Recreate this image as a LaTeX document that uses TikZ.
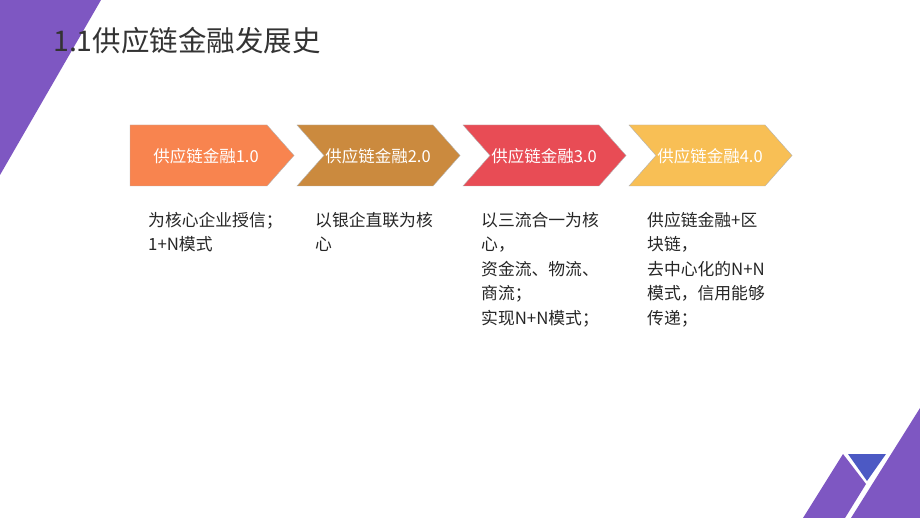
\documentclass[tikz,border=0pt]{standalone}
\usepackage{fontspec}
\setmainfont{Noto Sans CJK SC}
\begin{document}
\begin{tikzpicture}[x=1pt,y=-1pt,
  chev/.style={draw=gray!60,line width=0.4pt},
  lbl/.style={text=white,font=\fontsize{16.5}{18}\selectfont},
  body/.style={anchor=north west,align=left,text=black!85,font=\fontsize{16.8}{24.5}\selectfont,inner sep=0pt}]
\useasboundingbox (0,0) rectangle (920,518);
\fill[white] (0,0) rectangle (920,518);
\definecolor{vio}{HTML}{7E57C2}
\definecolor{bl}{HTML}{4C59C4}
\fill[vio] (0,0) -- (101,0) -- (0,175) -- cycle;
\fill[vio] (803,518) -- (843,454) -- (866,484) -- (845,518) -- cycle;
\fill[bl] (848,454) -- (886,454) -- (867,481) -- cycle;
\fill[vio] (851,518) -- (920,408) -- (920,518) -- cycle;
\node[anchor=west,text=black!80,font=\fontsize{28.5}{30}\selectfont,inner sep=0pt] (title) at (53,41) {1.1供应链金融发展史};
\definecolor{c1}{HTML}{F8844F}\definecolor{c2}{HTML}{CB8A3E}
\definecolor{c3}{HTML}{E84C55}\definecolor{c4}{HTML}{F8BF55}
\fill[c1,chev] (130,125) -- (267,125) -- (294,155.5) -- (267,186) -- (130,186) -- cycle;
\node[lbl] (a1) at (206,156) {供应链金融1.0};
\fill[c2,chev] (297,125) -- (433,125) -- (460,155.5) -- (433,186) -- (297,186) -- (324,155.5) -- cycle;
\node[lbl] (a2) at (378,156) {供应链金融2.0};
\fill[c3,chev] (463,125) -- (599,125) -- (626,155.5) -- (599,186) -- (463,186) -- (490,155.5) -- cycle;
\node[lbl] (a3) at (544,156) {供应链金融3.0};
\fill[c4,chev] (629,125) -- (765,125) -- (792,155.5) -- (765,186) -- (629,186) -- (656,155.5) -- cycle;
\node[lbl] (a4) at (710,156) {供应链金融4.0};
\node[body] (t1) at (148,212) {为核心企业授信；\\1+N模式};
\node[body] (t2) at (315,212) {以银企直联为核\\心};
\node[body] (t3) at (481,212) {以三流合一为核\\心，\\资金流、物流、\\商流；\\实现N+N模式；};
\node[body] (t4) at (647,212) {供应链金融+区\\块链，\\去中心化的N+N\\模式，信用能够\\传递；};
\end{tikzpicture}
\end{document}
